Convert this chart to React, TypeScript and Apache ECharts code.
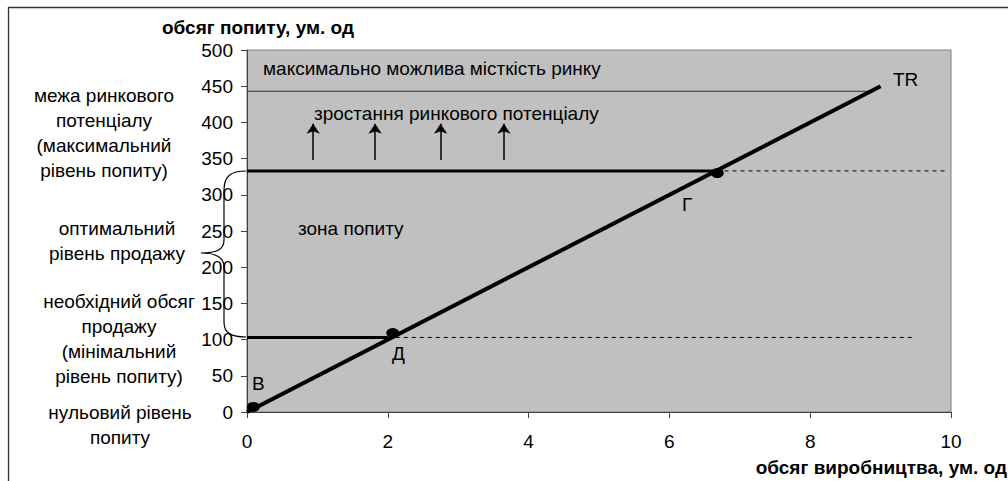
import React, { useEffect, useRef } from "react";
import * as echarts from "echarts";

const FONT = "'Liberation Sans', Arial, sans-serif";
const FS = 19;

const xTicks = [0, 2, 4, 6, 8, 10];
const yTicks = [0, 50, 100, 150, 200, 250, 300, 350, 400, 450, 500];

const trLine = [[0, 0], [9, 450]];
const capacityLine = [[0, 443], [8.85, 443]];
const maxLevelSolid = [[0, 333], [6.67, 333]];
const maxLevelDashed = [[6.67, 333], [9.95, 333]];
const minLevelSolid = [[0, 103], [2, 103]];
const minLevelDashed = [[2, 103], [9.5, 103]];
const keyPoints = [[0.09, 7], [2.07, 109], [6.68, 330]];
const arrowX = [0.94, 1.82, 2.75, 3.65];
const arrowFrom = 348;
const arrowTo = 398;

const leftLabels = [
  { text: "межа ринкового\nпотенціалу\n(максимальний\nрівень попиту)", cx: 104, cy: 133 },
  { text: "оптимальний\nрівень продажу", cx: 117, cy: 241 },
  { text: "необхідний обсяг\nпродажу\n(мінімальний\nрівень попиту)", cx: 119, cy: 339 },
  { text: "нульовий рівень\nпопиту", cx: 120, cy: 425 },
];

const braceD =
  "M 246 171 C 231 171 224 176 224 190 L 224 240 C 224 250 216 253 201 253 C 216 253 224 257 224 267 L 224 322 C 224 333 231 337 246 337";

let registered = false;

export default function App() {
  const ref = useRef<HTMLDivElement>(null);
  useEffect(() => {
    if (!registered) {
      echarts.graphic.registerShape("brace", echarts.graphic.extendPath(braceD, {}));
      registered = true;
    }
    const chart = echarts.init(ref.current!, null, { renderer: "svg" });
    const solid = (data: number[][], width: number, color = "#000") => ({
      type: "line",
      data,
      symbol: "none",
      lineStyle: { color, width, type: "solid", opacity: 1 },
      z: 3,
    });
    const dashed = (data: number[][]) => ({
      type: "line",
      data,
      symbol: "none",
      lineStyle: { color: "#000", width: 1, type: [4, 4], opacity: 1 },
      z: 2,
    });
    const txt = (text: string, x: number, y: number, extra: any = {}) => ({
      type: "text",
      x,
      y,
      z: 100,
      style: {
        text,
        font: `${FS}px ${FONT}`,
        fill: "#000",
        align: "left",
        verticalAlign: "middle",
        ...extra,
      },
    });
    chart.setOption({
      animation: false,
      textStyle: { fontFamily: FONT },
      grid: {
        left: 247,
        top: 50,
        right: 57,
        bottom: 69,
        show: true,
        backgroundColor: "#c0c0c0",
        borderColor: "#808080",
        borderWidth: 1,
      },
      xAxis: {
        type: "value",
        min: xTicks[0],
        max: xTicks[xTicks.length - 1],
        interval: 2,
        splitLine: { show: false },
        axisLine: { show: true, onZero: false, lineStyle: { color: "#404040", width: 1 } },
        axisTick: { show: true, length: 6, lineStyle: { color: "#404040" } },
        axisLabel: { color: "#000", fontSize: FS, margin: 20, fontFamily: FONT },
      },
      yAxis: {
        type: "value",
        min: yTicks[0],
        max: yTicks[yTicks.length - 1],
        interval: 50,
        splitLine: { show: false },
        axisLine: { show: true, onZero: false, lineStyle: { color: "#404040", width: 1 } },
        axisTick: { show: true, length: 6, lineStyle: { color: "#404040" } },
        axisLabel: { color: "#000", fontSize: FS, margin: 14, fontFamily: FONT },
      },
      series: [
        solid(capacityLine, 1.2, "#303030"),
        solid(maxLevelSolid, 3),
        dashed(maxLevelDashed),
        solid(minLevelSolid, 3),
        dashed(minLevelDashed),
        solid(trLine, 4),
        {
          type: "scatter",
          data: keyPoints,
          symbol: "circle",
          symbolSize: [13, 10],
          itemStyle: { color: "#000", opacity: 1 },
          z: 5,
        },
        {
          type: "lines",
          coordinateSystem: "cartesian2d",
          data: arrowX.map((x) => ({ coords: [[x, arrowFrom], [x, arrowTo]] })),
          symbol: ["none", "arrow"],
          symbolSize: [7, 10],
          lineStyle: { color: "#000", width: 1.5, curveness: 0, opacity: 1 },
          z: 4,
        },
      ],
      graphic: [
        { type: "line", shape: { x1: 8, y1: 7.5, x2: 1008, y2: 7.5 }, style: { stroke: "#333", lineWidth: 1.3 } },
        { type: "line", shape: { x1: 8.5, y1: 7, x2: 8.5, y2: 481 }, style: { stroke: "#333", lineWidth: 1.3 } },
        { type: "brace", x: 0, y: 0, z: 100, style: { stroke: "#000", fill: "none", lineWidth: 1.2 } },
        txt("обсяг попиту, ум. од", 162, 27, { font: `bold ${FS}px ${FONT}` }),
        txt("обсяг виробництва, ум. од", 1007, 467, { font: `bold ${FS}px ${FONT}`, align: "right" }),
        txt("максимально можлива місткість ринку", 263, 68),
        txt("зростання ринкового потенціалу", 314, 113),
        txt("зона попиту", 298, 228),
        txt("TR", 893, 79),
        txt("Г", 682, 204),
        txt("Д", 392, 353),
        txt("В", 252, 383),
        ...leftLabels.map((l) =>
          txt(l.text, l.cx, l.cy, { align: "center", lineHeight: 25 })
        ),
      ],
    });
    return () => chart.dispose();
  }, []);
  return (
    <div
      ref={ref}
      style={{ position: "absolute", left: 0, top: 0, width: 1008, height: 481, background: "#fff" }}
    />
  );
}
